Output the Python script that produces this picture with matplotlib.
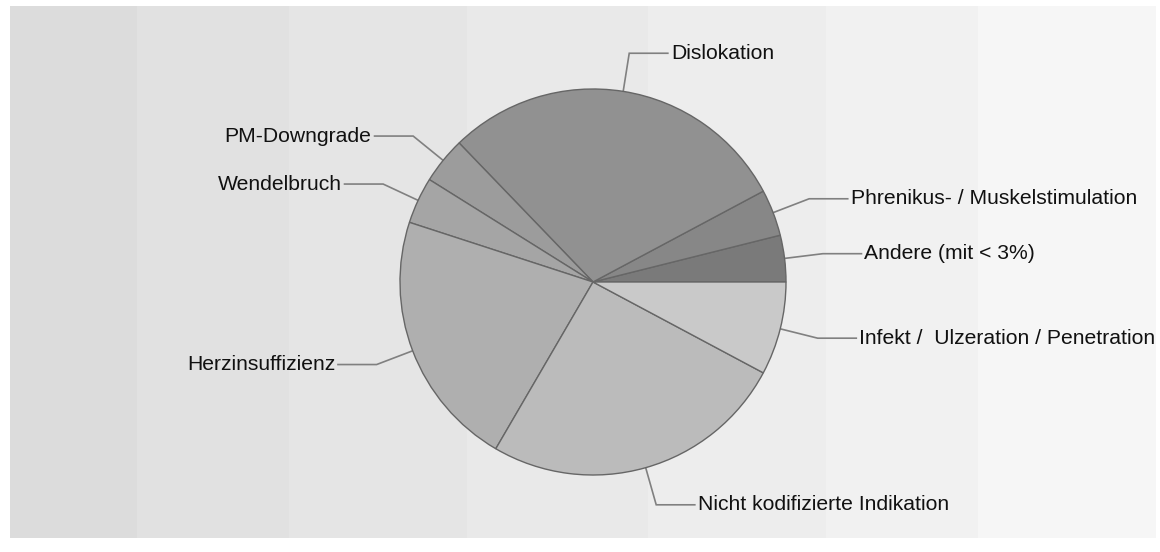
import numpy as np
import matplotlib
matplotlib.use("Agg")
import matplotlib.pyplot as plt
from matplotlib.patches import Rectangle

# ---- data ----
labels = ["Andere (mit < 3%)", "Phrenikus- / Muskelstimulation", "Dislokation",
          "PM-Downgrade", "Wendelbruch", "Herzinsuffizienz",
          "Nicht kodifizierte Indikation", "Infekt /  Ulzeration / Penetration"]
values = [3.9, 3.9, 29.4, 3.9, 3.9, 21.6, 25.6, 7.8]
colors = ["#7a7a7a", "#878787", "#919191", "#9c9c9c", "#a5a5a5", "#afafaf",
          "#bbbbbb", "#c9c9c9"]

# background bands (layout)
band_edges = [10, 137, 289, 467, 648, 826, 978, 1156]
band_colors = ["#dcdcdc", "#e1e1e1", "#e5e5e5", "#e9e9e9", "#ededed", "#f1f1f1", "#f6f6f6"]

W, H = 1160, 552
fig = plt.figure(figsize=(W / 100, H / 100), dpi=100)
ax = fig.add_axes([0, 0, 1, 1])
ax.set_xlim(0, W)
ax.set_ylim(0, H)
ax.set_aspect("equal")
ax.axis("off")

top, bottom = H - 6, H - 538
for i in range(len(band_colors)):
    ax.add_patch(Rectangle((band_edges[i], bottom), band_edges[i + 1] - band_edges[i],
                           top - bottom, facecolor=band_colors[i], edgecolor="none", zorder=0))

cx, cy, r = 593, H - 282, 193
wedges, _ = ax.pie(values, colors=colors, startangle=0, counterclock=True,
                   center=(cx, cy), radius=r, frame=True,
                   wedgeprops=dict(edgecolor="#666666", linewidth=1.0))
for w in wedges:
    w.set_zorder(2)
ax.set_xlim(0, W)
ax.set_ylim(0, H)
ax.axis("off")

font = dict(family=["Liberation Sans", "Arial", "DejaVu Sans"], size=15.2, color="#111111")
for w, lab in zip(wedges, labels):
    mid = np.deg2rad((w.theta1 + w.theta2) / 2)
    ex, ey = cx + r * np.cos(mid), cy + r * np.sin(mid)
    kx, ky = cx + 1.2 * r * np.cos(mid), cy + 1.2 * r * np.sin(mid)
    side = 1 if np.cos(mid) >= 0 else -1
    hx = kx + side * 0.2 * r
    ax.plot([ex, kx, hx], [ey, ky, ky], color="#808080", lw=1.2, zorder=1,
            solid_joinstyle="miter")
    ax.text(hx + side * 3, ky, lab, ha="left" if side > 0 else "right",
            va="center", **font)

fig.savefig("out.png", dpi=100)
